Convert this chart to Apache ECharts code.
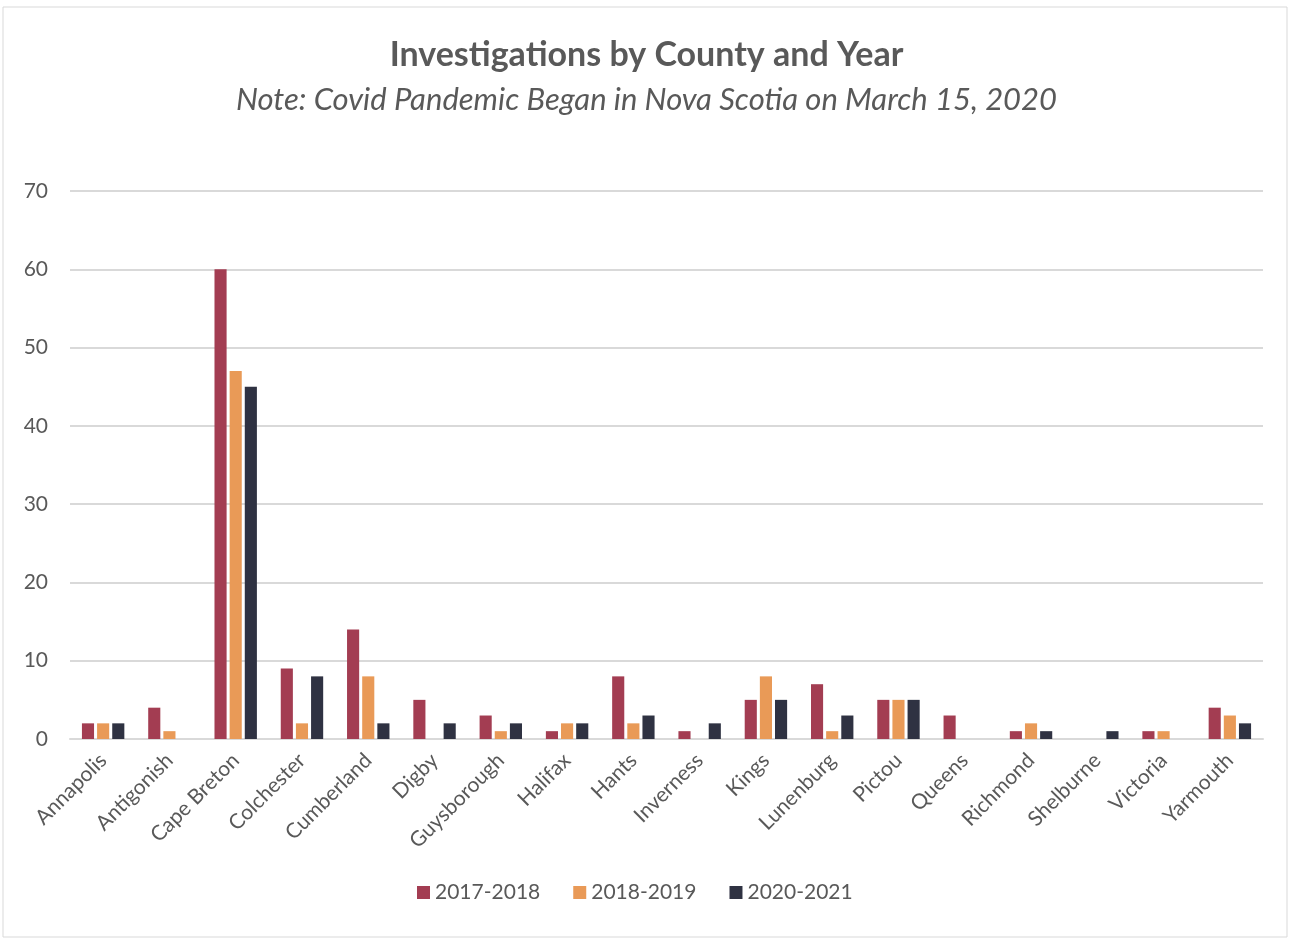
<!DOCTYPE html>
<html>
<head>
<meta charset="utf-8">
<script src="https://cdn.jsdelivr.net/npm/echarts@6/dist/echarts.min.js"></script>
<style>
  html, body { margin: 0; padding: 0; background: #fff; }
  #chart { width: 1293px; height: 939px; }
</style>
</head>
<body>
<div id="chart"></div>
<script>
const counties = ['Annapolis', 'Antigonish', 'Cape Breton', 'Colchester', 'Cumberland', 'Digby',
  'Guysborough', 'Halifax', 'Hants', 'Inverness', 'Kings', 'Lunenburg', 'Pictou', 'Queens',
  'Richmond', 'Shelburne', 'Victoria', 'Yarmouth'];
const y2017 = [2, 4, 60, 9, 14, 5, 3, 1, 8, 1, 5, 7, 5, 3, 1, 0, 1, 4];
const y2018 = [2, 1, 47, 2, 8, 0, 1, 2, 2, 0, 8, 1, 5, 0, 2, 0, 1, 3];
const y2020 = [2, 0, 45, 8, 2, 2, 2, 2, 3, 2, 5, 3, 5, 0, 1, 1, 0, 2];

const font = 'Lato, "Open Sans", sans-serif';
const textColor = '#595959';

const myChart = echarts.init(document.getElementById('chart'));

function bar(name, data, color) {
  return {
    name: name,
    type: 'bar',
    data: data,
    barGap: '25%',
    barCategoryGap: '36%',
    itemStyle: { color: color },
  };
}

myChart.setOption({
  animation: false,
  textStyle: { fontFamily: font },
  graphic: [
    {
      type: 'rect',
      shape: { x: 3, y: 7, width: 1284, height: 930 },
      style: { fill: 'none', stroke: '#d9d9d9', lineWidth: 1 },
      silent: true,
    },
  ],
  title: {
    text: 'Investigations by County and Year',
    subtext: 'Note: Covid Pandemic Began in Nova Scotia on March 15, 2020',
    left: 'center',
    top: 33,
    itemGap: 12,
    textStyle: { fontSize: 34, fontWeight: 'bold', color: textColor, fontFamily: font },
    subtextStyle: { fontSize: 31, fontStyle: 'italic', color: textColor, fontFamily: font },
  },
  legend: {
    bottom: 31,
    left: 412,
    itemWidth: 13,
    itemHeight: 13,
    itemGap: 33,
    icon: 'rect',
    textStyle: { fontSize: 21, color: textColor, fontFamily: font },
  },
  grid: { left: 70, right: 30, top: 191, bottom: 200 },
  xAxis: {
    type: 'category',
    data: counties,
    axisLine: { lineStyle: { color: '#d9d9d9', width: 2 } },
    axisTick: { show: false },
    axisLabel: {
      interval: 0,
      rotate: 45,
      margin: 18,
      fontSize: 21,
      color: textColor,
      fontFamily: font,
    },
  },
  yAxis: {
    type: 'value',
    min: 0,
    max: 70,
    interval: 10,
    axisLine: { show: false },
    axisTick: { show: false },
    axisLabel: { fontSize: 21, color: textColor, margin: 22, fontFamily: font },
    splitLine: { lineStyle: { color: '#d9d9d9', width: 2 } },
  },
  series: [
    bar('2017-2018', y2017, '#a33d52'),
    bar('2018-2019', y2018, '#e99a57'),
    bar('2020-2021', y2020, '#2f3242'),
  ],
});
</script>
</body>
</html>
